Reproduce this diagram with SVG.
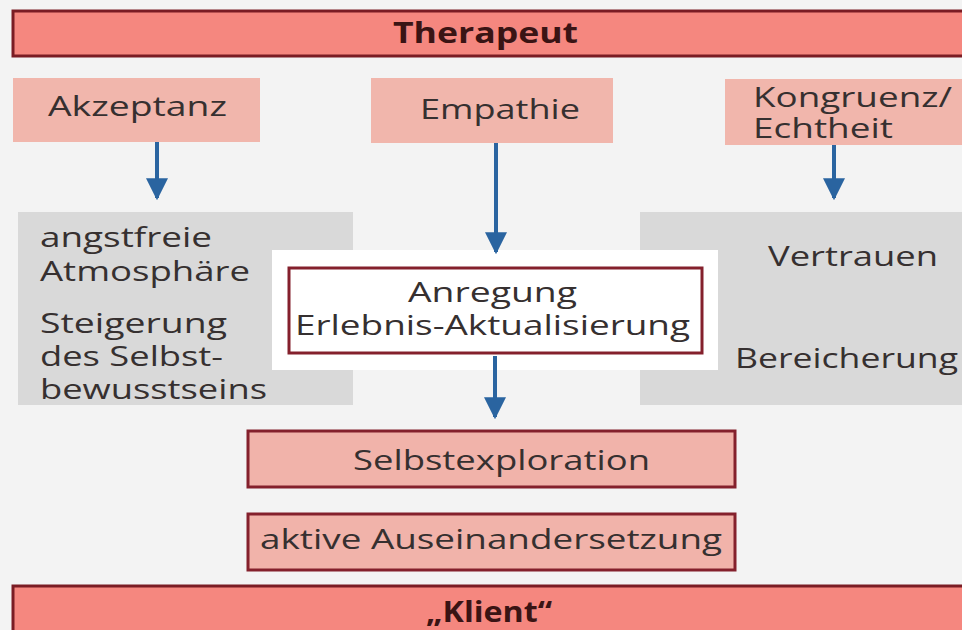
<svg xmlns="http://www.w3.org/2000/svg" width="962" height="630" viewBox="0 0 962 630">
  <defs>
    <style>
      .bar { fill: #f5877f; stroke: #7a1c24; stroke-width: 3; }
      .pink { fill: #f1b6ac; }
      .pinkb { fill: #f1b3aa; stroke: #84202c; stroke-width: 3; }
      .gray { fill: #d9d9d9; }
      .white { fill: #ffffff; stroke: #84202c; stroke-width: 3; }
      .t { font-family: "Open Sans", "Liberation Sans", sans-serif; font-size: 28px; fill: #363030; }
      .tb { font-family: "Open Sans", "Liberation Sans", sans-serif; font-size: 28px; font-weight: bold; fill: #3a1414; }
      .arrow { stroke: #2a64a0; stroke-width: 4; fill: none; }
    </style>
    <marker id="ah" viewBox="0 0 10 10" refX="9" refY="5" markerWidth="5.5" markerHeight="5.5" markerUnits="strokeWidth" orient="auto">
      <path d="M0,0 L10,5 L0,10 Z" fill="#2a64a0"/>
    </marker>
  </defs>

  <rect x="0" y="0" width="962" height="630" fill="#f3f3f3"/>

  <g id="therapeut">
    <rect class="bar" x="13" y="11" width="960" height="45"/>
    <text class="tb" x="393" y="43" textLength="185" lengthAdjust="spacingAndGlyphs">Therapeut</text>
  </g>

  <g id="akzeptanz">
    <rect class="pink" x="13" y="78" width="247" height="64"/>
    <text class="t" x="48" y="116" textLength="179" lengthAdjust="spacingAndGlyphs">Akzeptanz</text>
  </g>

  <g id="empathie">
    <rect class="pink" x="371" y="78" width="242" height="65"/>
    <text class="t" x="420" y="119" textLength="160" lengthAdjust="spacingAndGlyphs">Empathie</text>
  </g>

  <g id="kongruenz">
    <rect class="pink" x="725" y="79" width="240" height="66"/>
    <text class="t" x="753" y="107" textLength="199" lengthAdjust="spacingAndGlyphs">Kongruenz/</text>
    <text class="t" x="753" y="138" textLength="140" lengthAdjust="spacingAndGlyphs">Echtheit</text>
  </g>

  <g id="links">
    <path class="gray" d="M18,212 H353 V250 H272 V370 H353 V405 H18 Z"/>
    <text class="t" x="40" y="247" textLength="172" lengthAdjust="spacingAndGlyphs">angstfreie</text>
    <text class="t" x="40" y="281" textLength="210" lengthAdjust="spacingAndGlyphs">Atmosphäre</text>
    <text class="t" x="40" y="333" textLength="187" lengthAdjust="spacingAndGlyphs">Steigerung</text>
    <text class="t" x="40" y="366" textLength="183" lengthAdjust="spacingAndGlyphs">des Selbst-</text>
    <text class="t" x="40" y="399" textLength="227" lengthAdjust="spacingAndGlyphs">bewusstseins</text>
  </g>

  <g id="rechts">
    <path class="gray" d="M640,212 H965 V405 H640 V370 H718 V250 H640 Z"/>
    <text class="t" x="768" y="266" textLength="170" lengthAdjust="spacingAndGlyphs">Vertrauen</text>
    <text class="t" x="735" y="368" textLength="223" lengthAdjust="spacingAndGlyphs">Bereicherung</text>
  </g>

  <g id="anregung">
    <rect x="272" y="250" width="446" height="120" fill="#ffffff"/>
    <rect class="white" x="289" y="268" width="413" height="85"/>
    <text class="t" x="408" y="302" textLength="169" lengthAdjust="spacingAndGlyphs">Anregung</text>
    <text class="t" x="295" y="335" textLength="395" lengthAdjust="spacingAndGlyphs">Erlebnis-Aktualisierung</text>
  </g>

  <g id="selbstexploration">
    <rect class="pinkb" x="248" y="431" width="487" height="56"/>
    <text class="t" x="353" y="470" textLength="297" lengthAdjust="spacingAndGlyphs">Selbstexploration</text>
  </g>

  <g id="auseinandersetzung">
    <rect class="pinkb" x="248" y="514" width="487" height="56"/>
    <text class="t" x="260" y="549" textLength="462" lengthAdjust="spacingAndGlyphs">aktive Auseinandersetzung</text>
  </g>

  <g id="klient">
    <rect class="bar" x="13" y="586" width="960" height="60"/>
    <text class="tb" x="426" y="622" textLength="126" lengthAdjust="spacingAndGlyphs">„Klient“</text>
  </g>

  <g id="connectors">
    <line class="arrow" x1="157" y1="142" x2="157" y2="198" marker-end="url(#ah)"/>
    <line class="arrow" x1="496" y1="143" x2="496" y2="252" marker-end="url(#ah)"/>
    <line class="arrow" x1="834" y1="145" x2="834" y2="198" marker-end="url(#ah)"/>
    <line class="arrow" x1="495" y1="356" x2="495" y2="417" marker-end="url(#ah)"/>
  </g>
</svg>
